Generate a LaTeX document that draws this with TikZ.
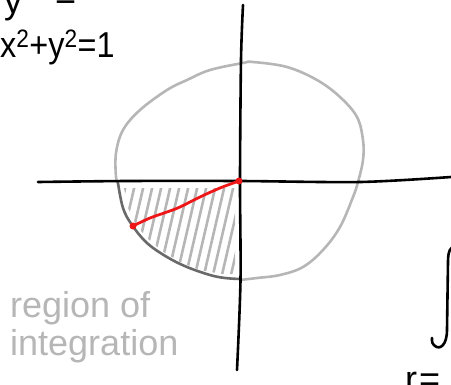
\documentclass[tikz,border=0pt]{standalone}
\usepackage{fontspec}
\setmainfont{Liberation Sans}
\begin{document}
\begin{tikzpicture}[x=1pt,y=-1pt,
  axis/.style={line width=2.6pt,black,line cap=round,line join=round},
  lightc/.style={line width=2.6pt,lightgr,line cap=round},
  darkc/.style={line width=2.6pt,darkgr,line cap=round},
  hatch/.style={line width=2.6pt,lightgr,line cap=round},
  redline/.style={line width=2.8pt,redc,line cap=round},
  reddot/.style={circle,fill=redc,inner sep=0pt,minimum size=7pt},
  hand/.style={font=\fontsize{36}{40}\selectfont,inner sep=0pt,anchor=base west},
]
\definecolor{lightgr}{RGB}{182,182,182}
\definecolor{darkgr}{RGB}{105,105,105}
\definecolor{redc}{RGB}{238,22,22}
\useasboundingbox (0,0) rectangle (451,384);

% hatching of the region of integration
\begin{scope}
  \clip (124,188) -- (235,188) -- (235,274) -- (222,274) -- (200,270) -- (180,262)
        -- (162,251) -- (147,238) -- (136,225) -- (128,208) -- cycle;
  \foreach \i in {0,...,18} {
    \draw[hatch] (92+\i*9,292) -- ++(26,-112);
  }
\end{scope}

% light grey circle
\draw[lightc] plot[smooth,tension=0.6] coordinates {
  (118,183) (116,177) (116,153) (123,130) (140,110) (167,90) (187,80) (210,70)
  (243,63) (253,62) (287,67) (317,80) (340,97) (357,117) (363,140) (363,160)
  (358,182) (353,197) (340,227) (323,250) (303,267) (280,275) (257,278) (240,280)};
% dark grey boundary of the region
\draw[darkc] plot[smooth,tension=0.6] coordinates {
  (118,183) (123,208) (132,225) (147,243) (167,257) (187,267) (210,275) (225,278) (240,279)};

% axes
\coordinate (xl) at (38,182);
\coordinate (xr) at (451,177);
\coordinate (yt) at (243,5);
\coordinate (yb) at (237,370);
\draw[axis] plot[smooth,tension=0.5] coordinates {(xl) (127,181) (240,181) (360,182) (xr)};
\draw[axis] plot[smooth,tension=0.5] coordinates {(yt) (241,60) (240,180) (240.5,280) (yb)};

% red radius
\node[reddot] (O) at (239,181) {};
\node[reddot] (P) at (133,226) {};
\draw[redline] plot[smooth,tension=0.6] coordinates {(O) (220,188) (200,197) (180,207) (167,212) (150,218) (P)};

% texts
\node[hand] (ytop) at (4,13) {y};
\node[hand] (eqtop) at (55,9) {=};
\node[hand,xscale=0.9] (circ) at (0,57) {x\textsuperscript{2}+y\textsuperscript{2}=1};
\node[hand,text=lightgr] (reg1) at (10,317) {region\hspace{10pt}of};
\node[hand,text=lightgr] (reg2) at (10,355) {integration};
\node[hand] (req) at (405,391) {r\hspace{2pt}=};

% integral sign
\draw[axis] (456,246) .. controls (450,246) and (448,252) .. (448,262)
  -- (447,330) .. controls (447,345) and (440,350) .. (435,346)
  .. controls (432,343) .. (432,338);
\end{tikzpicture}
\end{document}
